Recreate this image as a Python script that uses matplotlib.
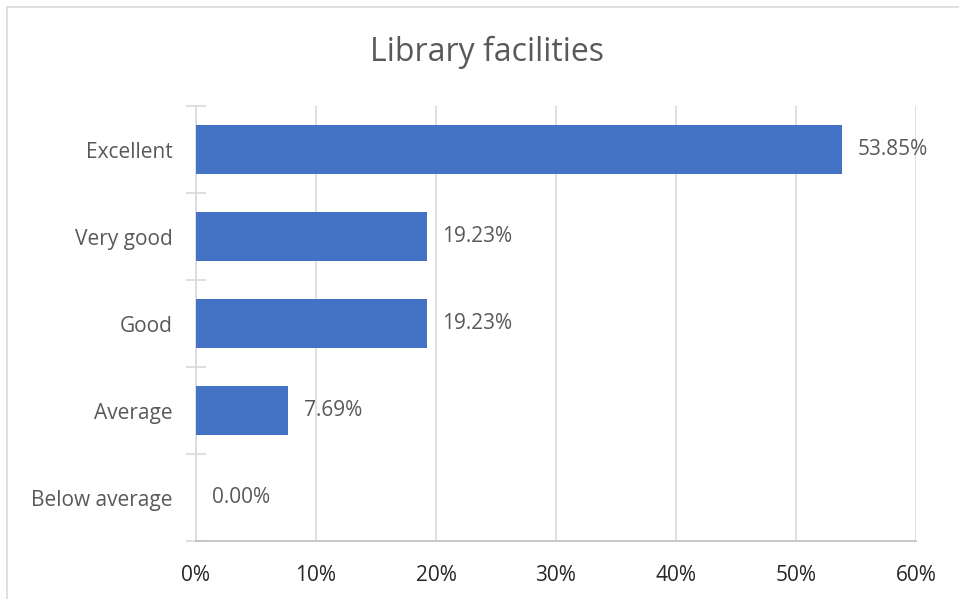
import matplotlib.pyplot as plt
from matplotlib.patches import Rectangle
from matplotlib.ticker import FixedLocator, PercentFormatter

# ------------------------------------------------------------------
# Data
# ------------------------------------------------------------------
CATEGORIES = ["Excellent", "Very good", "Good", "Average", "Below average"]
VALUES = [53.85, 19.23, 19.23, 7.69, 0.00]
X_TICKS = [0, 10, 20, 30, 40, 50, 60]

BAR_COLOR = "#4472C4"
TEXT_GRAY = "#595959"
LINE_GRAY = "#D9D9D9"

plt.rcParams["font.family"] = ["Open Sans", "DejaVu Sans"]

fig = plt.figure(figsize=(9.59, 5.99), dpi=100)
W, H = 959, 599
ax = fig.add_axes([196 / W, 1 - 541 / H, (916 - 196) / W, (541 - 106) / H])

# outer chart border (cut off at right/bottom in the original)
fig.patches.append(Rectangle((7 / W, -0.1), 1.2, 1 - 7 / H + 0.1,
                             transform=fig.transFigure, fill=False,
                             edgecolor=LINE_GRAY, linewidth=1.2))

y = list(range(len(CATEGORIES)))
ax.barh(y, VALUES, height=0.56, color=BAR_COLOR, zorder=3)
ax.set_ylim(len(CATEGORIES) - 0.5, -0.5)
ax.set_xlim(0, 60)

for yi, v in zip(y, VALUES):
    ax.text(v + 1.3, yi, f"{v:.2f}%", va="center", ha="left",
            fontsize=15, color=TEXT_GRAY)

ax.set_yticks(y)
ax.set_yticklabels(CATEGORIES, fontsize=15, color=TEXT_GRAY)
ax.yaxis.set_minor_locator(FixedLocator([i - 0.5 for i in range(len(CATEGORIES) + 1)]))
ax.tick_params(axis="y", which="major", length=0, pad=17)
ax.tick_params(axis="y", which="minor", direction="inout", length=15,
               width=1.2, color=LINE_GRAY)

ax.xaxis.set_major_locator(FixedLocator(X_TICKS))
ax.xaxis.set_major_formatter(PercentFormatter(decimals=0))
ax.tick_params(axis="x", length=0, pad=17, labelsize=15, labelcolor="#262626")

ax.grid(axis="x", color=LINE_GRAY, linewidth=1.2, zorder=0)
for s in ["top", "right"]:
    ax.spines[s].set_visible(False)
ax.spines["left"].set_color(LINE_GRAY)
ax.spines["left"].set_linewidth(1.2)
ax.spines["bottom"].set_color("#BFBFBF")
ax.spines["bottom"].set_linewidth(1.2)

fig.text(487 / W, 1 - 52 / H, "Library facilities", ha="center", va="center",
         fontsize=23, color=TEXT_GRAY)

fig.savefig("out.png", dpi=100)
